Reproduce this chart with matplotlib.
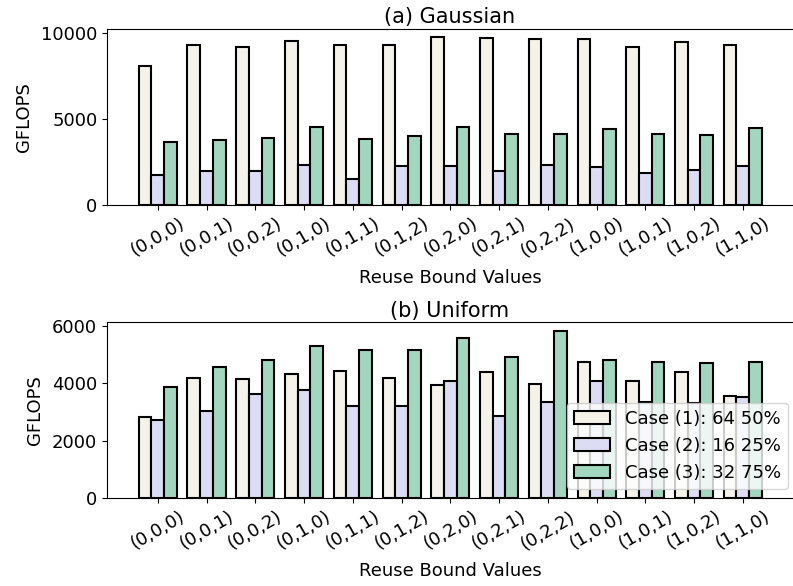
import matplotlib
matplotlib.use("Agg")
from matplotlib import pyplot as plt
import numpy as np

labels = ["(0,0,0)", "(0,0,1)", "(0,0,2)", "(0,1,0)", "(0,1,1)", "(0,1,2)", "(0,2,0)",
          "(0,2,1)", "(0,2,2)", "(1,0,0)", "(1,0,1)", "(1,0,2)", "(1,1,0)"]
case_names = ["Case (1): 64 50%", "Case (2): 16 25%", "Case (3): 32 75%"]

# (a) Gaussian
gauss_case1 = [8100, 9320, 9190, 9560, 9300, 9320, 9770, 9730, 9650, 9650, 9170, 9480, 9340]
gauss_case2 = [1770, 2000, 1960, 2350, 1540, 2270, 2270, 1980, 2330, 2210, 1880, 2020, 2250]
gauss_case3 = [3650, 3810, 3880, 4560, 3830, 4040, 4560, 4140, 4140, 4450, 4140, 4060, 4510]

# (b) Uniform
unif_case1 = [2840, 4180, 4160, 4340, 4420, 4180, 3930, 4410, 3970, 4740, 4070, 4390, 3570]
unif_case2 = [2720, 3050, 3620, 3780, 3200, 3200, 4070, 2860, 3350, 4100, 3340, 3300, 3530]
unif_case3 = [3890, 4560, 4810, 5300, 5180, 5180, 5570, 4910, 5840, 4810, 4760, 4720, 4740]

colors = ["#f5f2ea", "#dcddf4", "#a3d6bf"]
width = 0.26
x = np.arange(len(labels))

fig = plt.figure(figsize=(7.93, 5.86), dpi=100)
ax1 = fig.add_axes([0.135, 0.650, 0.865, 0.301])
ax2 = fig.add_axes([0.135, 0.150, 0.865, 0.300])

panels = [(ax1, "(a) Gaussian", [gauss_case1, gauss_case2, gauss_case3], [0, 5000, 10000]),
          (ax2, "(b) Uniform", [unif_case1, unif_case2, unif_case3], [0, 2000, 4000, 6000])]

for ax, title, series, yt in panels:
    for i, vals in enumerate(series):
        ax.bar(x + (i - 1) * width, vals, width, color=colors[i], edgecolor="black",
               linewidth=1.5, label=case_names[i])
    ax.set_title(title, fontsize=15, pad=4)
    ax.set_ylabel("GFLOPS", fontsize=13, labelpad=6)
    ax.set_xlabel("Reuse Bound Values", fontsize=13, labelpad=6)
    ax.set_xticks(x)
    ax.set_xticklabels(labels, rotation=30, fontsize=13)
    ax.set_yticks(yt)
    ax.tick_params(axis="y", labelsize=13)
    ax.set_xlim(-1.04, 13.03)
    top = max(max(s) for s in series) * 1.05
    ax.set_ylim(0, top)
    ax.spines["right"].set_visible(False)

ax2.legend(loc="lower right", bbox_to_anchor=(1.006, 0.0), fontsize=13)

fig.savefig("out.png", dpi=100)
